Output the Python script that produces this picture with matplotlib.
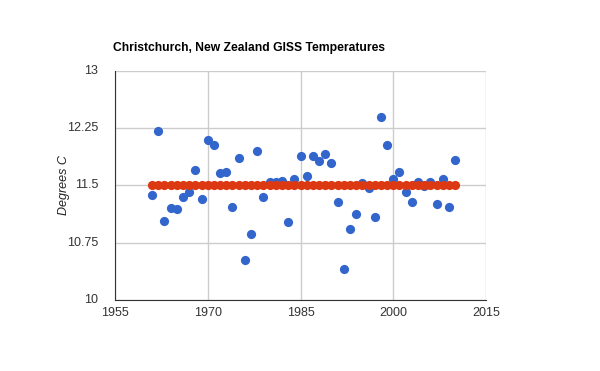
import numpy as np
import matplotlib.pyplot as plt

plt.rcParams['font.family'] = ['Liberation Sans', 'DejaVu Sans']

# yearly GISS temperatures, Christchurch
years = np.arange(1961, 2011)
temps = [11.38, 12.21, 11.04, 11.20, 11.19, 11.35, 11.42, 11.70, 11.32, 12.09,
         12.03, 11.66, 11.68, 11.22, 11.86, 10.52, 10.86, 11.95, 11.35, 11.54,
         11.55, 11.56, 11.02, 11.59, 11.88, 11.62, 11.89, 11.82, 11.91, 11.79,
         11.28, 10.41, 10.93, 11.12, 11.53, 11.46, 11.08, 12.40, 12.03, 11.58,
         11.68, 11.41, 11.28, 11.55, 11.49, 11.55, 11.25, 11.59, 11.22, 11.83]
mean_level = [11.5] * len(years)

x_ticks = [1955, 1970, 1985, 2000, 2015]
y_ticks = [10, 10.75, 11.5, 12.25, 13]

fig = plt.figure(figsize=(6, 3.71), dpi=100)
ax = fig.add_axes([0.1917, 0.1914, 0.6183, 0.6178])

ax.scatter(years, temps, s=44, color='#3366cc', zorder=3, linewidths=0)
ax.scatter(years, mean_level, s=44, color='#dc3912', zorder=4, linewidths=0)

ax.set_xlim(1955, 2015)
ax.set_ylim(10, 13)
ax.set_xticks(x_ticks)
ax.set_yticks(y_ticks)
ax.set_yticklabels(['10', '10.75', '11.5', '12.25', '13'])
ax.grid(True, color='#cccccc', linewidth=1)
ax.set_axisbelow(True)
ax.tick_params(length=0, labelsize=9, colors='#333333')
ax.tick_params(axis='y', pad=12)
ax.tick_params(axis='x', pad=5)
for side in ['top', 'right']:
    ax.spines[side].set_visible(False)
ax.spines['left'].set_color('#333333')
ax.spines['bottom'].set_color('#333333')
for lab in ax.get_yticklabels():
    lab.set_verticalalignment('center')

ax.set_ylabel('Degrees C', fontstyle='italic', fontsize=9, color='#222222')
ax.yaxis.set_label_coords(-0.122, 0.5)
fig.text(0.1883, 0.862, 'Christchurch, New Zealand GISS Temperatures',
         fontsize=8.7, fontweight='bold', color='#000000')

fig.savefig('out.png', dpi=100)
